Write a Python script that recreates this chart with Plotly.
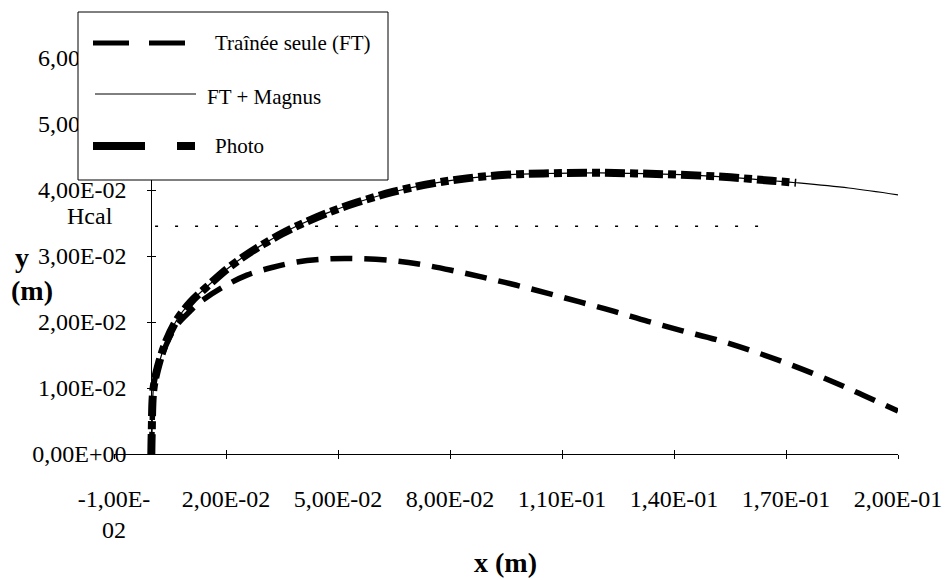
import plotly.graph_objects as go

# Trajectory with drag only (FT)
x_ft = [0, 0.0002, 0.0007, 0.0023, 0.0041, 0.0068, 0.0103, 0.013, 0.0192, 0.0256,
        0.0326, 0.039, 0.047, 0.055, 0.0647, 0.0725, 0.0807, 0.0887, 0.0976, 0.1065,
        0.115, 0.124, 0.133, 0.142, 0.1515, 0.161, 0.170, 0.179, 0.188, 0.200]
y_ft = [0, 0.0036, 0.0106, 0.0140, 0.0167, 0.0195, 0.0216, 0.0230, 0.0253, 0.0271,
        0.0283, 0.0291, 0.02955, 0.0296, 0.0293, 0.0287, 0.0278, 0.0268, 0.0256, 0.0243,
        0.0230, 0.0216, 0.0201, 0.0187, 0.0173, 0.0156, 0.0138, 0.0118, 0.0096, 0.0065]

# Trajectory with drag + Magnus effect
x_magnus = [0, 0.0002, 0.0007, 0.0023, 0.0041, 0.0068, 0.0103, 0.0148, 0.0202, 0.025,
            0.030, 0.035, 0.040, 0.047, 0.055, 0.0647, 0.0754, 0.085, 0.095, 0.105,
            0.1202, 0.137, 0.1531, 0.1662, 0.1727, 0.1868, 0.2019]
y_magnus = [0, 0.0036, 0.0108, 0.0142, 0.0173, 0.0203, 0.0229, 0.0253, 0.0280, 0.0300,
            0.0318, 0.0334, 0.0348, 0.0365, 0.0381, 0.0397, 0.0410, 0.0418, 0.0423, 0.0425,
            0.0426, 0.0424, 0.0420, 0.0414, 0.0411, 0.0403, 0.0391]

# Measured trajectory (photo)
x_photo = [0, 0.0001, 0.0006, 0.0022, 0.004, 0.0068, 0.0105, 0.015, 0.020, 0.025,
           0.030, 0.035, 0.040, 0.047, 0.055, 0.0647, 0.0754, 0.085, 0.095, 0.105,
           0.1202, 0.137, 0.1531, 0.1662, 0.1727]
y_photo = [0, 0.0030, 0.0100, 0.0141, 0.0171, 0.0203, 0.0230, 0.0254, 0.0279, 0.0300,
           0.0318, 0.0334, 0.0348, 0.0365, 0.0381, 0.0397, 0.0410, 0.0418, 0.0423, 0.0425,
           0.0426, 0.0424, 0.0420, 0.0414, 0.0411]

# Calculated height
h_cal = 0.0345
x_hcal = [0.001, 0.166]

x_ticks = [-0.01, 0.02, 0.05, 0.08, 0.11, 0.14, 0.17, 0.20]
x_ticktext = ["-1,00E-<br>02", "2,00E-02", "5,00E-02", "8,00E-02",
              "1,10E-01", "1,40E-01", "1,70E-01", "2,00E-01"]
y_ticks = [0, 0.01, 0.02, 0.03, 0.04, 0.05, 0.06]
y_ticktext = ["0,00E+00", "1,00E-02", "2,00E-02", "3,00E-02",
              "4,00E-02", "5,00E-02", "6,00E-02"]
legend_labels = ["Traînée seule (FT)", "FT + Magnus", "Photo"]

W, H = 949, 580
ML, MR, MT, MB = 114, 51, 25, 126
X_RANGE = [-0.01, 0.20]
Y_RANGE = [0, 0.065]
FONT = "Liberation Serif, Times New Roman, serif"
TICK_SIZE = 24

PW = W - ML - MR
PH = H - MT - MB


def px_x(px):
    return (px - ML) / PW


def px_y(py):
    return (H - MB - py) / PH


y_axis_pos = (0 - X_RANGE[0]) / (X_RANGE[1] - X_RANGE[0])

fig = go.Figure()

fig.add_trace(go.Scatter(x=x_magnus, y=y_magnus, mode="lines",
                         line=dict(color="black", width=1.2),
                         line_shape="spline",
                         name=legend_labels[1], showlegend=False))
fig.add_trace(go.Scatter(x=x_ft, y=y_ft, mode="lines",
                         line=dict(color="black", width=5.5, dash="22px,12px"),
                         line_shape="spline",
                         name=legend_labels[0], showlegend=False))
fig.add_trace(go.Scatter(x=x_photo, y=y_photo, mode="lines",
                         line=dict(color="black", width=8, dash="20px,5px,8px,5px"),
                         line_shape="spline",
                         name=legend_labels[2], showlegend=False))
fig.add_trace(go.Scatter(x=x_hcal, y=[h_cal, h_cal], mode="lines",
                         line=dict(color="black", width=1.5, dash="3px,17px"),
                         name="Hcal", showlegend=False))

fig.update_layout(
    width=W, height=H,
    margin=dict(l=ML, r=MR, t=MT, b=MB, autoexpand=False),
    paper_bgcolor="white", plot_bgcolor="white",
    font=dict(family=FONT, color="black", size=TICK_SIZE),
    showlegend=False,
    xaxis=dict(range=X_RANGE, domain=[0, 1], tickvals=x_ticks, ticktext=x_ticktext,
               showgrid=False, zeroline=False, showline=True, linecolor="black",
               linewidth=1, ticks="outside", ticklen=4, tickcolor="black",
               automargin=False,
               ticklabelstandoff=19, tickfont=dict(size=TICK_SIZE, family=FONT)),
    xaxis2=dict(range=X_RANGE, overlaying="x", anchor="y", tickvals=x_ticks,
                showticklabels=False, showgrid=False, zeroline=False,
                automargin=False,
                ticks="inside", ticklen=4, tickcolor="black"),
    yaxis=dict(range=Y_RANGE, anchor="free", position=y_axis_pos,
               tickvals=y_ticks, ticktext=y_ticktext,
               showgrid=False, zeroline=False, showline=True, linecolor="black",
               linewidth=1, ticks="outside", ticklen=4, tickcolor="black",
               automargin=False,
               ticklabelstandoff=16, tickfont=dict(size=TICK_SIZE, family=FONT)),
    yaxis2=dict(range=Y_RANGE, overlaying="y", anchor="free", position=y_axis_pos,
                tickvals=y_ticks, showticklabels=False, showgrid=False,
                automargin=False,
                zeroline=False, ticks="inside", ticklen=4, tickcolor="black"),
)
# empty trace so the overlay axes (cross tick marks) are drawn
fig.add_trace(go.Scatter(x=[None], y=[None], xaxis="x2", yaxis="y2", showlegend=False))

# Legend box
shapes = [
    dict(type="rect", xref="paper", yref="paper",
         x0=px_x(78), x1=px_x(388), y0=px_y(180), y1=px_y(12),
         fillcolor="white", line=dict(color="black", width=1), layer="above"),
    dict(type="line", xref="paper", yref="paper",
         x0=px_x(93), x1=px_x(185), y0=px_y(43), y1=px_y(43),
         line=dict(color="black", width=5, dash="36px,20px"), layer="above"),
    dict(type="line", xref="paper", yref="paper",
         x0=px_x(95), x1=px_x(196), y0=px_y(94), y1=px_y(94),
         line=dict(color="black", width=1), layer="above"),
    dict(type="line", xref="paper", yref="paper",
         x0=px_x(93), x1=px_x(195), y0=px_y(146), y1=px_y(146),
         line=dict(color="black", width=8, dash="52px,32px,18px,32px"), layer="above"),
]
fig.update_layout(shapes=shapes)

legend_pos = [(213, 43), (205, 97), (213, 146)]
annotations = []
for label, (lx, ly) in zip(legend_labels, legend_pos):
    annotations.append(dict(text=label, xref="paper", yref="paper",
                            x=px_x(lx), y=px_y(ly), xanchor="left", yanchor="middle",
                            showarrow=False, font=dict(family=FONT, size=21)))

annotations += [
    dict(text="Hcal", xref="paper", yref="paper", x=px_x(90), y=px_y(216),
         xanchor="center", yanchor="middle", showarrow=False,
         font=dict(family=FONT, size=TICK_SIZE)),
    dict(text="<b>y</b>", xref="paper", yref="paper", x=px_x(22), y=px_y(257),
         xanchor="center", yanchor="middle", showarrow=False,
         font=dict(family=FONT, size=28)),
    dict(text="<b>(m)</b>", xref="paper", yref="paper", x=px_x(32), y=px_y(290),
         xanchor="center", yanchor="middle", showarrow=False,
         font=dict(family=FONT, size=28)),
    dict(text="<b>x (m)</b>", xref="paper", yref="paper", x=px_x(505), y=px_y(562),
         xanchor="center", yanchor="middle", showarrow=False,
         font=dict(family=FONT, size=28)),
]
fig.update_layout(annotations=annotations)

fig.write_html("out.html")
